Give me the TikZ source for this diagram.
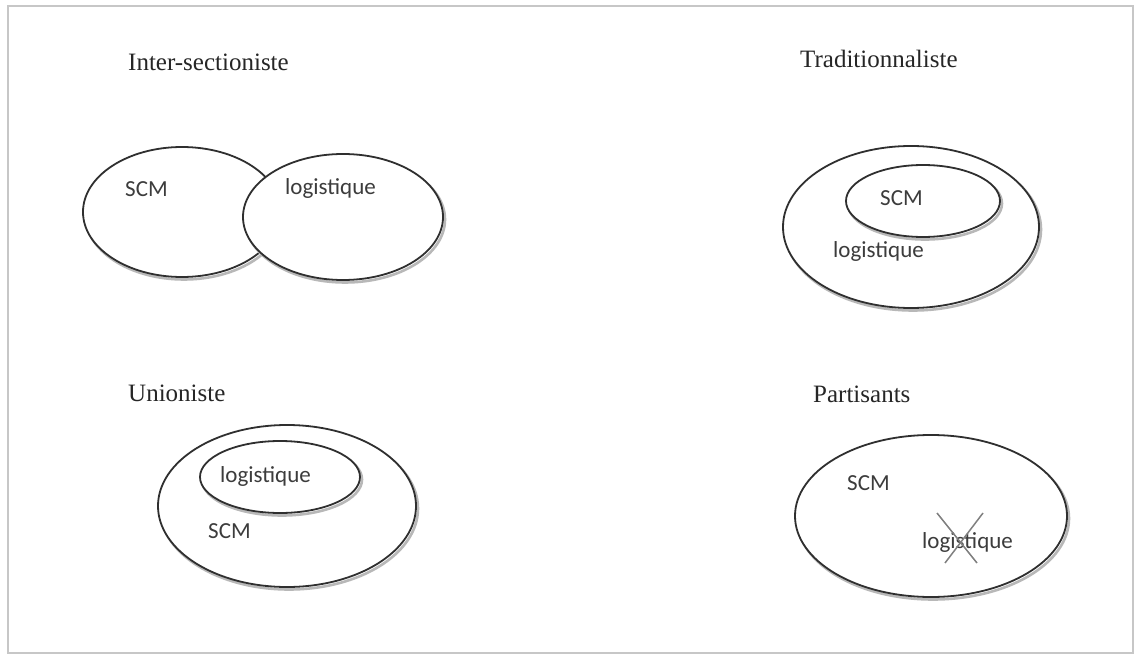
\documentclass[tikz,border=0pt]{standalone}
\usepackage{fontspec}
\setmainfont{Liberation Serif}
\newfontfamily\labfont{Carlito}
\usetikzlibrary{shapes.geometric}
\definecolor{edge}{HTML}{2F2F2F}
\definecolor{labcol}{HTML}{3C3C3C}
\definecolor{titcol}{HTML}{262626}
\tikzset{
  setell/.style={ellipse, draw=edge, line width=1.8pt, fill=white, inner sep=0pt},
  shadowell/.style={ellipse, draw=black!28, line width=2.6pt, inner sep=0pt},
  lab/.style={anchor=base west, inner sep=0pt, text=labcol, font=\labfont\fontsize{23}{26}\selectfont},
  title/.style={anchor=base west, inner sep=0pt, text=titcol, font=\fontsize{25}{28}\selectfont},
}
\begin{document}
\begin{tikzpicture}[x=1pt,y=-1pt]
\useasboundingbox (0,0) rectangle (1135,655);
\fill[white] (0,0) rectangle (1135,655);
\draw[black!22, line width=2pt] (8,6) rectangle (1133,653);

% Titles
\node[title] (t1) at (128,71) {Inter-sectioniste};
\node[title] (t2) at (800,68) {Traditionnaliste};
\node[title] (t3) at (128,401) {Unioniste};
\node[title] (t4) at (813,402) {Partisants};

% Inter-sectioniste
\node[shadowell, minimum width=198pt, minimum height=130pt] (s1l) at (184,214.5) {};
\node[setell, minimum width=198pt, minimum height=130pt] (e1l) at (182,212) {};
\node[shadowell, minimum width=200pt, minimum height=126pt] (s1r) at (345,219.5) {};
\node[setell, minimum width=200pt, minimum height=126pt] (e1r) at (343,217) {};
\node[lab] (l1a) at (125,197) {SCM};
\node[lab] (l1b) at (285,195) {logistique};

% Traditionnaliste
\node[shadowell, minimum width=256pt, minimum height=162pt] (s2o) at (913,229.5) {};
\node[setell, minimum width=256pt, minimum height=162pt] (e2o) at (911,227) {};
\node[shadowell, minimum width=154pt, minimum height=72pt] (s2i) at (925,203.5) {};
\node[setell, minimum width=154pt, minimum height=72pt] (e2i) at (923,201) {};
\node[lab] (l2a) at (880,206) {SCM};
\node[lab] (l2b) at (833,257) {logistique};

% Unioniste
\node[shadowell, minimum width=258pt, minimum height=162pt] (s3o) at (289,508.5) {};
\node[setell, minimum width=258pt, minimum height=162pt] (e3o) at (287,506) {};
\node[shadowell, minimum width=160pt, minimum height=72pt] (s3i) at (282,479.5) {};
\node[setell, minimum width=160pt, minimum height=72pt] (e3i) at (280,477) {};
\node[lab] (l3a) at (220,482) {logistique};
\node[lab] (l3b) at (208,538) {SCM};

% Partisants
\node[shadowell, minimum width=272pt, minimum height=162pt] (s4) at (933,518.5) {};
\node[setell, minimum width=272pt, minimum height=162pt] (e4) at (931,516) {};
\node[lab] (l4a) at (847,490) {SCM};
\node[lab] (l4b) at (922,548) {logistique};
\coordinate (c1) at (937,513);
\coordinate (c2) at (977,563);
\coordinate (c3) at (983,513);
\coordinate (c4) at (945,563);
\draw[black!50, line width=1.5pt] (c1) -- (c2);
\draw[black!50, line width=1.5pt] (c3) -- (c4);
\end{tikzpicture}
\end{document}
